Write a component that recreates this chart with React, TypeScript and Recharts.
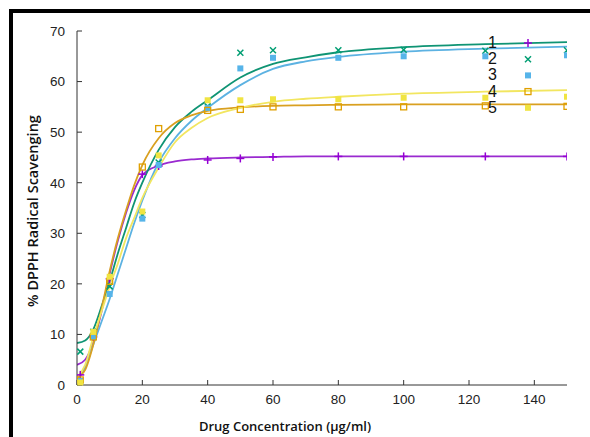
import {
  ComposedChart,
  Line,
  Scatter,
  XAxis,
  YAxis,
  Legend,
} from "recharts";

// measured points (x = drug concentration, µg/ml)
const concX = [1, 5, 10, 20, 25, 40, 50, 60, 80, 100, 125, 150];
const pts1 = [2, 9.5, 21, 41.7, 43.3, 44.5, 44.8, 45.1, 45.2, 45.2, 45.2, 45.2];
const pts2 = [6.6, 10.5, 19.5, 33.6, 44, 55.1, 65.7, 66.2, 66.2, 66.3, 66.1, 66.2];
const pts3 = [0.8, 9.5, 18, 32.9, 43.5, 54.8, 62.6, 64.7, 64.7, 65.0, 65.0, 65.2];
const pts4 = [1, 9.5, 20.5, 43.1, 50.7, 54.3, 54.5, 55.0, 55.0, 55.0, 55.2, 55.1];
const pts5 = [0.5, 10.5, 21.4, 34.3, 45.4, 56.3, 56.3, 56.5, 56.5, 56.8, 56.8, 57.0];

// fitted curves
const fitX = [0, 2.5, 5, 7.5, 10, 12.5, 15, 17.5, 20, 25, 30, 35, 40, 50, 60, 70, 80, 100, 125, 150];
const fit1 = [4, 5, 8.5, 14.5, 22, 28.5, 34, 38.5, 41.5, 43.4, 44.2, 44.6, 44.8, 45, 45.1, 45.2, 45.2, 45.2, 45.2, 45.2];
const fit2 = [8.3, 8.8, 11, 15.5, 20.5, 26, 31, 36, 40, 46.5, 51, 54, 56.3, 60.8, 63.5, 64.8, 65.8, 66.8, 67.4, 67.8];
const fit3 = [1, 3.5, 8, 12.5, 17, 22, 27, 32, 36.5, 44, 48.8, 52.2, 54.8, 59.3, 62.5, 64, 64.9, 65.9, 66.5, 66.9];
const fit4 = [1.5, 3, 8, 15, 22.5, 29, 34.5, 39.5, 43.5, 48.8, 51.8, 53.3, 54.2, 54.9, 55.2, 55.3, 55.4, 55.5, 55.5, 55.5];
const fit5 = [1.5, 4, 9.5, 14.5, 19.5, 24, 29, 33, 37, 43, 48, 50.8, 52.8, 54.8, 56, 56.6, 57, 57.6, 58, 58.3];

const seriesNames = ["1", "2", "3", "4", "5"];
const xTicks = [0, 20, 40, 60, 80, 100, 120, 140];
const yTicks = [0, 10, 20, 30, 40, 50, 60, 70];

const COLORS = ["#9400d3", "#009e73", "#56b4e9", "#e0a000", "#f0e442"];
const LINE_COLORS = ["#9a2ad0", "#0f9474", "#5cb2e2", "#d9a020", "#f2e660"];
const KINDS = ["plus", "cross", "square", "open", "square"];

const allPts = [pts1, pts2, pts3, pts4, pts5];
const allFits = [fit1, fit2, fit3, fit4, fit5];

const pointData = allPts.map((p) => concX.map((x, i) => ({ x, y: p[i] })));
const fitData = fitX.map((x, i) => {
  const row: any = { x };
  allFits.forEach((f, k) => (row["f" + k] = f[i]));
  return row;
});

function Marker({ kind, cx, cy, color }: any) {
  if (cx == null || cy == null) return <g />;
  if (kind === "plus")
    return (
      <g stroke={color} strokeWidth={1.5}>
        <line x1={cx - 4} y1={cy} x2={cx + 4} y2={cy} />
        <line x1={cx} y1={cy - 4} x2={cx} y2={cy + 4} />
      </g>
    );
  if (kind === "cross")
    return (
      <g stroke={color} strokeWidth={1.5}>
        <line x1={cx - 3} y1={cy - 3} x2={cx + 3} y2={cy + 3} />
        <line x1={cx - 3} y1={cy + 3} x2={cx + 3} y2={cy - 3} />
      </g>
    );
  if (kind === "open")
    return (
      <rect x={cx - 3} y={cy - 3} width={6} height={6} fill="none" stroke={color} strokeWidth={1.3} />
    );
  return <rect x={cx - 3} y={cy - 3} width={6} height={6} fill={color} />;
}

const tickStyle = { fontFamily: "Liberation Sans, Arial, sans-serif", fontSize: 13.5, fill: "#222" };
const labelFont = "'Open Sans', sans-serif";

function LegendBox() {
  return (
    <svg width={80} height={95}>
      {seriesNames.map((n, i) => (
        <g key={n}>
          <text x={27} y={17 + i * 16.2} textAnchor="end" fontFamily="Liberation Sans, Arial, sans-serif" fontSize={16} fill="#111">
            {n}
          </text>
          <Marker kind={KINDS[i]} cx={58} cy={12 + i * 16.2} color={COLORS[i]} />
        </g>
      ))}
    </svg>
  );
}

export default function App() {
  return (
    <div style={{ position: "fixed", left: 0, top: 0, width: 590, height: 437, background: "#fff", overflow: "hidden" }}>
      <div
        style={{
          position: "absolute",
          left: 9,
          top: 9,
          width: 700,
          height: 600,
          borderTop: "4px solid #000",
          borderLeft: "4px solid #000",
        }}
      />
      <div style={{ position: "absolute", left: 0, top: 0 }}>
        <ComposedChart width={590} height={437} margin={{ top: 31, right: 23, left: 0, bottom: 0 }}>
          <XAxis
            xAxisId="b"
            dataKey="x"
            type="number"
            domain={[0, 150]}
            ticks={xTicks}
            height={52}
            tickSize={-5}
            tickMargin={14}
            tick={tickStyle}
            stroke="#333"
            allowDataOverflow
            label={{
              value: "Drug Concentration (µg/ml)",
              position: "center",
              dx: -37,
              dy: 15,
              style: { fontFamily: labelFont, fontWeight: 600, fontSize: 13, fill: "#111" },
            }}
          />
          <XAxis
            xAxisId="t"
            orientation="top"
            dataKey="x"
            type="number"
            domain={[0, 150]}
            ticks={xTicks}
            height={0}
            tickSize={-5}
            tick={() => <g />}
            stroke="#333"
          />
          <YAxis
            yAxisId="l"
            type="number"
            domain={[0, 70]}
            ticks={yTicks}
            width={77}
            tickSize={-5}
            tickMargin={17}
            tick={tickStyle}
            stroke="#333"
            label={{
              value: "% DPPH Radical Scavenging",
              angle: -90,
              position: "center",
              dx: -6,
              dy: 3,
              style: { fontFamily: labelFont, fontWeight: 600, fontSize: 14.5, fill: "#111" },
            }}
          />
          <YAxis
            yAxisId="r"
            orientation="right"
            type="number"
            domain={[0, 70]}
            ticks={yTicks}
            width={0}
            tickSize={-5}
            tick={() => <g />}
            stroke="#333"
          />
          {allFits.map((_, k) => (
            <Line
              key={"f" + k}
              xAxisId="b"
              yAxisId="l"
              data={fitData}
              dataKey={"f" + k}
              type="monotone"
              stroke={LINE_COLORS[k]}
              strokeWidth={1.8}
              dot={false}
              activeDot={false}
              legendType="none"
              isAnimationActive={false}
            />
          ))}
          {pointData.map((d, k) => (
            <Scatter
              key={"p" + k}
              xAxisId="b"
              yAxisId="l"
              data={d}
              dataKey="y"
              name={seriesNames[k]}
              shape={(p: any) => <Marker kind={KINDS[k]} cx={p.cx} cy={p.cy} color={COLORS[k]} />}
              isAnimationActive={false}
            />
          ))}
          <Legend
            layout="horizontal"
            verticalAlign="middle"
            align="center"
            wrapperStyle={{ left: 470, top: 31, width: 80 }}
            content={() => <LegendBox />}
          />
        </ComposedChart>
      </div>
    </div>
  );
}
